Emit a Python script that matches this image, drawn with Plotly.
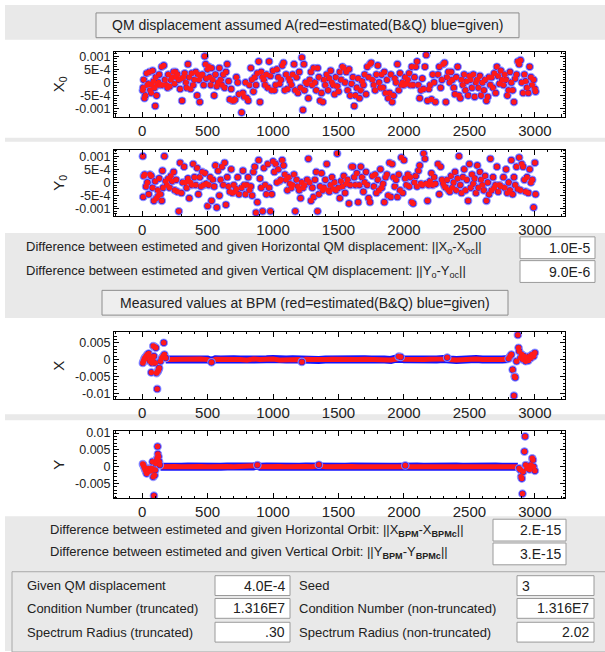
import plotly.graph_objects as go

W, H = 605, 652

# ---------------- data ----------------
# Horizontal QM displacement X0 (units 1e-4) vs element index
x0_idx = [5,8,12,18,25,35,40,50,55,62,70,75,80,88,95,100,105,110,118,125,130,140,150,158,165,175,185,195,200,210,220,230,240,248,
          255,262,270,280,290,300,305,315,325,335,340,350,360,370,380,390,400,410,420,428,435,440,450,460,470,478,485,490,500,510,518,
          525,530,540,550,560,570,580,590,600,610,620,630,640,650,660,670,680,690,700,710,720,730,740,
          760,770,780,790,800,810,820,830,840,850,860,870,880,890,900,910,920,930,940,950,960,970,980,990,1000,
          1010,1020,1030,1040,1050,1060,1070,1080,1090,1100,1110,1120,1130,1140,1150,1160,1170,1180,1190,1200,1210,1220,1228,1235,1240,
          1250,1260,1270,1280,1290,1300,1310,1320,1330,1340,1350,1360,1370,1380,1390,1400,1410,1420,1430,1440,1450,1460,1470,1480,1490,
          1500,1510,1520,1530,1540,1550,1560,1570,1580,1590,1600,1610,1620,1630,1640,1650,1660,1670,1680,1690,1700,1710,1720,1730,1740,1750,
          1760,1770,1780,1790,1800,1810,1820,1830,1840,1850,1860,1870,1880,1890,1900,1910,1920,1930,1940,1950,1960,1970,1980,1990,
          2000,2010,2020,2030,2040,2050,2060,2070,2080,2090,2100,2110,2120,2130,2140,2150,2160,2170,2180,2190,2200,2210,2220,2230,2240,
          2260,2270,2280,2290,2300,2310,2320,2330,2340,2350,2360,2370,2380,2390,2400,2410,2420,2430,2440,2450,2460,2470,2480,2490,
          2500,2510,2520,2530,2540,2550,2560,2570,2580,2590,2600,2610,2620,2630,2640,2650,2660,2670,2680,2690,2700,2710,2720,2730,2740,
          2750,2760,2770,2780,2790,2800,2810,2820,2830,2840,2850,2860,2870,2880,2890,2900,2910,2920,2930,2940,2950,2960,2970,2980,2990,3000,3005]
x0_val = [-3,-2,1,-6,-5,3.5,-1,-0.5,4,-3,-4,-1,4.5,0.5,-2,-9,2,-5,-1,0,3,-1,6,-1,6.5,1,-1,-2,3,-1.5,1,2,4,-0.5,
          4,2,3,1,-2.5,1.5,-7,2,3.5,0,-2,7,2,-2.5,3.5,-1,1,4,-5,3,1,-7.5,2.5,3,-1,10,7,1.5,5,6,2,
          -1,5.5,1,-5,3,-1.5,0,5.5,1,-1,3,-2,4,7,0.5,-6.5,-2.5,-7,-7,-6.5,2,0,-4.5,
          -11.5,-4,-5.5,0,-6,-7,-1,5.5,1,-3.5,2,-1,3.5,8,-7.5,4,2,1,-1,3,-2,8,2.5,-3,4.5,
          -3,-1,5,2,-0.5,1,6.5,7.5,-3,3,-2.5,1.5,0.5,-1,3,7,-3,2,-4,4,-2,9.5,-10.5,7,-3,
          0,-0.5,-6,1,4,-1,5.5,0,-3,5.5,2,-7,-4,-7.5,1,-1,3,-3,1.5,4.5,0,-1,-4.5,2,-1.5,
          -3.5,4,1,6,5.5,0,4,-3,5,-5,-0.5,2,-9,-5,-2,1.5,-6,-3,0.5,-1,3,-4.5,6,2,7,7.5,
          1,-1,-3,3,6.5,0,-2,3,-2,4,-4,1,-6,-4,3,-7.5,-5,1.5,0,7,-3,3.5,-1,0,
          -1,2,-0.5,1,3.5,-1,6,-1,2,6,8,-1,-6,-3,1.5,-2.5,6,10.5,-7,-2.5,-1,-6.5,3,0,-7.5,
          3,6,-2,1,7,7.5,-7.5,2,4,0,4,1,-2,-4.5,2,6,-5,-6,1,-1,3,-3,0.5,-5,
          2.5,1,-2,3,-5.5,0,1,-2,2.5,-5,0,-3,1,-7,-5.5,2,-1,2,-2,3.5,-4,6,2.5,-0.5,4.5,
          1,-1,3,1,-5,-3,4,0,-3,-7.5,1.5,3,8,7,8.5,0,-4,3,0.5,-2,-4,6,2,-1,1,-2.5,-3.5]

# Vertical QM displacement Y0 (units 1e-4)
y0_idx = [5,8,12,20,30,40,50,60,70,80,90,100,110,120,125,130,140,150,155,160,170,180,190,200,210,220,230,240,250,
          260,270,280,290,300,310,320,330,340,350,360,370,380,390,400,410,420,430,440,450,460,470,480,490,500,
          510,520,530,540,550,560,570,580,590,600,610,620,630,640,650,660,670,680,690,700,710,720,730,740,
          760,770,780,790,800,810,820,830,840,850,860,870,880,890,900,910,920,930,940,950,960,970,980,990,1000,
          1010,1020,1030,1040,1050,1060,1070,1080,1090,1100,1110,1120,1130,1140,1150,1160,1170,1180,1190,1200,1210,1220,1230,1240,
          1260,1270,1280,1290,1300,1310,1320,1330,1340,1350,1360,1370,1380,1390,1400,1410,1420,1430,1440,1450,1460,1470,1480,1490,
          1500,1510,1520,1530,1540,1550,1560,1570,1580,1590,1600,1610,1620,1630,1640,1650,1660,1670,1680,1690,1700,1710,1720,1730,1740,
          1760,1770,1780,1790,1800,1810,1820,1830,1840,1850,1860,1870,1880,1890,1900,1910,1920,1930,1940,1950,1960,1970,1980,1990,
          2000,2010,2020,2030,2040,2050,2060,2070,2080,2090,2100,2110,2120,2130,2140,2150,2160,2170,2180,2190,2200,2210,2220,2230,2240,
          2260,2270,2280,2290,2300,2310,2320,2330,2340,2350,2360,2370,2380,2390,2400,2410,2420,2430,2440,2450,2460,2470,2480,2490,
          2500,2510,2520,2530,2540,2550,2560,2570,2580,2590,2600,2610,2620,2630,2640,2650,2660,2670,2680,2690,2700,2710,2720,2730,2740,
          2760,2770,2780,2790,2800,2810,2820,2830,2840,2850,2860,2870,2880,2890,2900,2910,2920,2930,2940,2950,2960,2970,2980,2990,3000,3005]
y0_val = [10,-5.5,2.5,3,-1.5,0,-4.5,3,2.5,-2,-7,0.5,-6,-3,-5,1.5,-4.5,-7,4.5,-2,10,0.5,-1,1.5,-2,2.5,0.5,4,-3,
          1,-3.5,-11,7.5,-4,0,6,0,-2,1.5,-6,0,-1,7,2,-1,5.5,-4.5,2,-1.5,4,-1,3.5,-0.5,-9,
          -1,2,-7,1,-1.5,6.5,-9.5,4.5,-5,1,6,-1,7.5,-8.5,2,-1.5,-3.5,5,-4,-1,-3.5,-2.5,2,-4.5,
          -2,4.5,-1,-4.5,-1,2,-3,-1.5,-5,4,6,-11.5,-7.5,8.5,1.5,-2,-11,5.5,-1,-4.5,7,-2,-11,-4.5,8,
          4,7,0,5,0.5,1,8.5,6.5,3,1,-3,2,-0.5,-2,-1,3,-11,1,-1.5,-3,-6,0,-2,-1,
          1,9,0,-7,-2,-5.5,1,4,-11,-4.5,-1.5,3.5,-3,-2,1,7,-3,-3.5,-1,2,-2.5,0,-3,11,
          -2,-6,0.5,-1.5,2.5,-4,-0.5,1,-8,-1,6,6,2,-1,3.5,-7.5,-1,6,2,-3.5,0,4,-1,-6,-7.5,
          2.5,-1.5,3,-4,1,-3,5,-2,-0.5,-7.5,2,3,-5,7.5,-5.5,7,2,-1.5,1,-5.5,3,-3,9.5,-4,
          8.5,1.5,-1,3,-1.5,2,-7.5,-8,0,2.5,-1.5,4.5,6.5,-0.5,-1,11,9,-0.5,-7,-1,0.5,3.5,-1,2,-0.5,
          7,-4.5,6,1,-0.5,-1.5,-2,1,-3,-3.5,2.5,-2,0,4,-3,1.5,10,-1,-4,2,5,-3,1,-7,
          7,-2,3,-0.5,1.5,-4,6.5,-2,4,1,-1,-3,2.5,-7,0,-4.5,9,-3,2,-2,-1,6,-3.5,-1,-1.5,
          2,-2,5,-4,0,-3,8.5,-4.5,2,-1,6,-2.5,9.5,-3,7,6,1,-3.5,2,-4,5,0,1,-9.5,7.5,-4.5]

# Horizontal orbit at BPMs (units 1e-3): scattered points and the quiet central band
bx_idx = [5,10,15,20,25,30,40,50,55,60,70,75,80,85,90,95,100,105,110,115,120,125,130,140,150,160,165,170,180,
          530,1220,1960,1975,2330,
          2800,2810,2820,2830,2840,2845,2850,2860,2870,2875,2880,2890,2900,2910,2920,2930,2940,2950,2960,2970,2980,2990,3000]
bx_val = [-1,-0.5,0,0.5,0.3,1,1.5,1.8,1,-0.5,-3.8,-1,0,4,1,3.8,-1,3.5,-4,-8.7,-3.5,-3,-2.5,-0.5,0.5,1,5,1.5,0.5,
          -0.8,-0.7,0.9,0.8,0.6,
          0.3,1,1.5,-3,-10.7,-5,-5.3,-0.5,7.3,3.5,2.5,0.5,1.5,0,1,-0.5,0.5,-0.3,1,0.5,1.5,1,2]
bx_band_idx = [180,250,300,350,400,450,500,530,560,600,650,700,750,800,850,900,950,1000,1050,1100,1150,1200,1220,1250,1300,
               1350,1400,1450,1500,1550,1600,1650,1700,1750,1800,1850,1900,1950,1960,2000,2050,2100,2150,2200,2250,2300,2330,
               2350,2400,2450,2500,2550,2600,2650,2700,2750,2800]
bx_band_val = [0,0.1,-0.1,0.1,0,0.2,0,-0.4,0.1,0,0.2,0.1,0,-0.1,0.2,0,0.1,0.2,-0.1,0,0.1,0,-0.3,0.1,0,
               -0.1,0,0.1,0,0,-0.1,0,0.1,0,0.2,0,-0.1,0.2,0.5,0.1,0,0.2,0,0.1,0,0.2,0.4,
               0,-0.1,0.1,0,0.2,0,-0.1,0.1,0,0.2]

# Vertical orbit at BPMs (units 1e-3)
by_idx = [5,10,15,20,25,30,35,40,45,50,55,60,65,70,75,80,85,90,95,100,105,110,115,118,120,125,130,135,
          880,1350,2010,
          2880,2890,2895,2900,2905,2910,2920,2925,2930,2940,2950,2960,2970,2980,2985,2990,3000]
by_val = [0.8,0.5,0,-0.5,-1,-1.5,-2,-1,-1.5,-0.5,-1,-1,-0.5,-1.2,-0.5,1.5,-3,-8.6,-2.5,-1,1,1.5,2.5,6,3.8,3,1.5,0.5,
          0.5,0.6,0.4,
          -0.5,-1,-3,-3.5,-8,-1.5,4.5,9,0.5,-0.5,0,-0.8,0.5,2.5,2,0,-1.2]
by_band_idx = [140,200,250,300,350,400,450,500,550,600,650,700,750,800,850,880,900,950,1000,1050,1100,1150,1200,1250,1300,
               1350,1400,1450,1500,1550,1600,1650,1700,1750,1800,1850,1900,1950,2000,2050,2100,2150,2200,2250,2300,2350,
               2400,2450,2500,2550,2600,2650,2700,2750,2800,2850,2870]
by_band_val = [0,0.2,0.1,0,0.1,0,0.1,0,0.1,0,0.1,0,0.1,0,0.1,0.3,0,0.1,0,0.1,0,0.1,0,0.1,0,
               0.3,0,0.1,0,0,0.1,0,0,0.1,0,0.1,0,0,0.2,0,0.1,0,0.1,0,0.1,0,
               0.1,0,0.1,0,0.1,0,0.1,0,0.1,0,0]

x_ticks = [0, 500, 1000, 1500, 2000, 2500, 3000]

# ---------------- helpers ----------------
def fx(p):
    return p / W

def fy(p):
    return 1 - p / H

FONT = "Liberation Sans"
TXT = "#222222"
GRAY = "#e9e9e9"
BLUE = "#1414ff"
RED = "#ff1a1a"

fig = go.Figure()

def add_points(xs, ys, scale, axis):
    yv = [v * scale for v in ys]
    fig.add_trace(go.Scatter(x=xs, y=yv, mode="markers", xaxis="x" + axis, yaxis="y" + axis,
                             marker=dict(size=7.5, color=BLUE, line=dict(width=1.2, color="rgba(150,150,255,0.8)")),
                             hoverinfo="skip", showlegend=False))
    fig.add_trace(go.Scatter(x=xs, y=yv, mode="markers", xaxis="x" + axis, yaxis="y" + axis,
                             marker=dict(size=5.5, color=RED, line=dict(width=0)),
                             hoverinfo="skip", showlegend=False))

def add_band(xs, ys, scale, axis):
    yv = [v * scale for v in ys]
    fig.add_trace(go.Scatter(x=xs, y=yv, mode="lines", xaxis="x" + axis, yaxis="y" + axis,
                             line=dict(width=8, color=BLUE), hoverinfo="skip", showlegend=False))
    fig.add_trace(go.Scatter(x=xs, y=yv, mode="lines", xaxis="x" + axis, yaxis="y" + axis,
                             line=dict(width=5, color=RED), hoverinfo="skip", showlegend=False))

add_points(x0_idx, x0_val, 1e-4, "")
add_points(y0_idx, y0_val, 1e-4, "2")
add_band(bx_band_idx, bx_band_val, 1e-3, "3")
add_points(bx_idx, bx_val, 1e-3, "3")
add_band(by_band_idx, by_band_val, 1e-3, "4")
add_points(by_idx, by_val, 1e-3, "4")

# ---------------- axes ----------------
XL, XR = 114, 565
panels = [  # (suffix, top, bottom, y range, tick values, tick labels, minor step, title)
    ("", 47, 113, [-0.00132, 0.00118], [-0.001, -0.0005, 0, 0.0005, 0.001],
     ["-0.001", "-5E-4", "0", "5E-4", "0.001"], 0.0001, "X<sub>0</sub>"),
    ("2", 146, 213, [-0.00128, 0.00125], [-0.001, -0.0005, 0, 0.0005, 0.001],
     ["-0.001", "-5E-4", "0", "5E-4", "0.001"], 0.0001, "Y<sub>0</sub>"),
    ("3", 330, 398, [-0.0118, 0.0082], [-0.01, -0.005, 0, 0.005],
     ["-0.01", "-0.005", "0", "0.005"], 0.001, "X"),
    ("4", 430, 498, [-0.0094, 0.0106], [-0.005, 0, 0.005, 0.01],
     ["-0.005", "0", "0.005", "0.01"], 0.001, "Y"),
]

layout_axes = {}
for suf, top, bot, yr, tv, tt, mstep, title in panels:
    xa = "xaxis" + suf
    ya = "yaxis" + suf
    layout_axes[xa] = dict(
        domain=[fx(XL), fx(XR)], anchor="y" + suf, range=[-215, 3230],
        tickvals=x_ticks, ticktext=[str(t) for t in x_ticks],
        ticks="inside", ticklen=5, tickcolor="black", showline=True, linecolor="black", linewidth=1,
        mirror="ticks", showgrid=False, zeroline=False,
        minor=dict(ticks="inside", ticklen=2.5, dtick=100, tick0=0, tickcolor="black", showgrid=False),
        tickfont=dict(family=FONT, size=15, color=TXT),
    )
    layout_axes[ya] = dict(
        domain=[fy(bot), fy(top)], anchor="x" + suf, range=yr,
        tickvals=tv, ticktext=tt,
        ticks="inside", ticklen=5, tickcolor="black", showline=True, linecolor="black", linewidth=1,
        mirror="ticks", showgrid=False, zeroline=False,
        minor=dict(ticks="inside", ticklen=2.5, dtick=mstep, tick0=0, tickcolor="black", showgrid=False),
        tickfont=dict(family=FONT, size=12.5, color=TXT),
        title=dict(text=title, font=dict(family=FONT, size=15, color=TXT), standoff=6),
    )

# ---------------- GUI panels ----------------
shapes = []
annotations = []

def rect(x0, y0, x1, y1, fill, line=None, lw=1):
    shapes.append(dict(type="rect", xref="paper", yref="paper", x0=fx(x0), x1=fx(x1), y0=fy(y1), y1=fy(y0),
                       fillcolor=fill, line=dict(width=lw if line else 0, color=line or fill), layer="below"))

def text(x, y, s, anchor="left", size=13):
    annotations.append(dict(x=fx(x), y=fy(y), xref="paper", yref="paper", text=s, showarrow=False,
                            xanchor=anchor, yanchor="middle", font=dict(family=FONT, size=size, color=TXT)))

def button(x0, y0, x1, y1, label):
    rect(x0, y0, x1, y1, "#eeeeee", "#8c8c8c", 1)
    text((x0 + x1) / 2, (y0 + y1) / 2, label, anchor="center", size=14)

def field(x0, y0, x1, y1, value, align="right"):
    rect(x0, y0, x1, y1, "white", "#9a9a9a", 1)
    if align == "right":
        text(x1 - 3, (y0 + y1) / 2, value, anchor="right", size=14)
    else:
        text(x0 + 3, (y0 + y1) / 2, value, anchor="left", size=14)

# gray bands
rect(5, 0, 605, 35, GRAY)
rect(5, 134, 605, 138, GRAY)
rect(5, 230, 605, 316, GRAY)
rect(5, 413, 605, 419, GRAY)
rect(5, 516, 605, 652, GRAY)

button(96, 8, 519, 33, "QM displacement assumed A(red=estimated(B&amp;Q) blue=given)")

text(24, 245, "Difference between estimeted and given Horizontal QM displacement: ||X<sub>o</sub>-X<sub>oc</sub>||")
field(520, 234, 595, 256, "1.0E-5")
text(24, 269, "Difference between estimeted and given Vertical QM displacement: ||Y<sub>o</sub>-Y<sub>oc</sub>||")
field(520, 258, 595, 280, "9.0E-6")

button(102, 288, 508, 313, "Measured values at BPM (red=estimated(B&amp;Q) blue=given)")

text(48, 530, "Difference between estimeted and given Horizontal Orbit: ||X<sub><b>BPM</b></sub>-X<sub><b>BPMc</b></sub>||")
field(493, 519, 566, 541, "2.E-15")
text(48, 553, "Difference between estimeted and given Vertical Orbit: ||Y<sub><b>BPM</b></sub>-Y<sub><b>BPMc</b></sub>||")
field(493, 543, 566, 565, "3.E-15")

# parameter box
rect(12, 572, 606, 653, GRAY, "#a8a8a8", 1)
rows = [
    (586, "Given QM displacement", "4.0E-4", "Seed", "3"),
    (609, "Condition Number (truncated)", "1.316E7", "Condition Number (non-truncated)", "1.316E7"),
    (633, "Spectrum Radius (truncated)", ".30", "Spectrum Radius (non-truncated)", "2.02"),
]
for yc, l1, v1, l2, v2 in rows:
    text(25, yc, l1)
    field(215, yc - 10, 290, yc + 10, v1)
    text(297, yc, l2)
    field(517, yc - 10, 594, yc + 10, v2, align="left" if l2 == "Seed" else "right")

fig.update_layout(
    width=W, height=H, autosize=False,
    margin=dict(l=0, r=0, t=0, b=0),
    paper_bgcolor="white", plot_bgcolor="white",
    shapes=shapes, annotations=annotations,
    showlegend=False,
    **layout_axes,
)

fig.write_html("out.html")
